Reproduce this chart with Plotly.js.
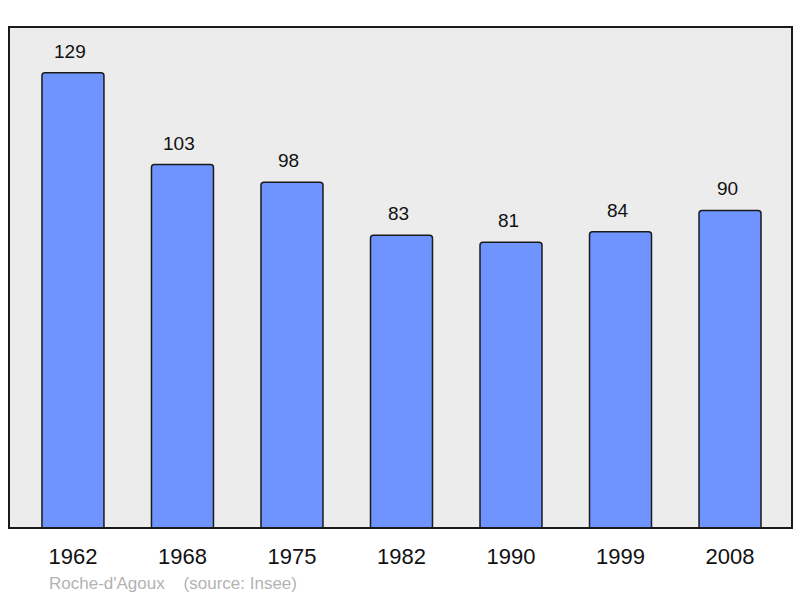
<!DOCTYPE html>
<html><head><meta charset="utf-8">
<script src="https://cdn.plot.ly/plotly-3.0.1.min.js"></script>
<style>body{margin:0;background:#fff}#c{width:800px;height:598px}</style>
</head><body><div id="c"></div>
<script>
const years = ["1962","1968","1975","1982","1990","1999","2008"];
const population = [129,103,98,83,81,84,90];
const footer = "Roche-d'Agoux\u00a0\u00a0\u00a0\u00a0(source: Insee)";

const trace = {
  type: 'bar', x: years, y: population, width: 0.566,
  marker: {color: '#7094ff', line: {color: '#1a1a1a', width: 1.5}, cornerradius: 3},
  hoverinfo: 'none'
};
const annotations = years.map((yr, i) => ({
  x: i, y: population[i], xref: 'x', yref: 'y', text: String(population[i]),
  showarrow: false, yanchor: 'bottom', yshift: 9, xshift: -3,
  font: {family: 'Liberation Sans, Arial, sans-serif', size: 19, color: '#111'}
}));
annotations.push({
  xref: 'paper', yref: 'paper', x: 0, y: 0, xanchor: 'left', yanchor: 'top',
  yshift: -44, xshift: 38, text: footer, showarrow: false,
  font: {family: 'Liberation Sans, Arial, sans-serif', size: 17, color: '#b3b3b3'}
});
const layout = {
  width: 800, height: 598,
  margin: {l: 9, r: 8, t: 27, b: 70},
  paper_bgcolor: '#ffffff', plot_bgcolor: '#ececec',
  showlegend: false,
  xaxis: {type: 'category', range: [-0.584, 6.566], showgrid: false, zeroline: false,
    ticks: 'outside', ticklen: 9, tickcolor: 'rgba(0,0,0,0)', showline: false,
    tickfont: {family: 'Liberation Sans, Arial, sans-serif', size: 22, color: '#111'}},
  yaxis: {range: [0, 142], showgrid: false, zeroline: false, showticklabels: false, ticks: ''},
  shapes: [{type: 'rect', xref: 'paper', yref: 'paper', x0: 0, x1: 1, y0: 0, y1: 1,
    line: {color: '#1a1a1a', width: 2}, layer: 'above'}],
  annotations: annotations
};
Plotly.newPlot('c', [trace], layout, {staticPlot: true});
</script></body></html>
